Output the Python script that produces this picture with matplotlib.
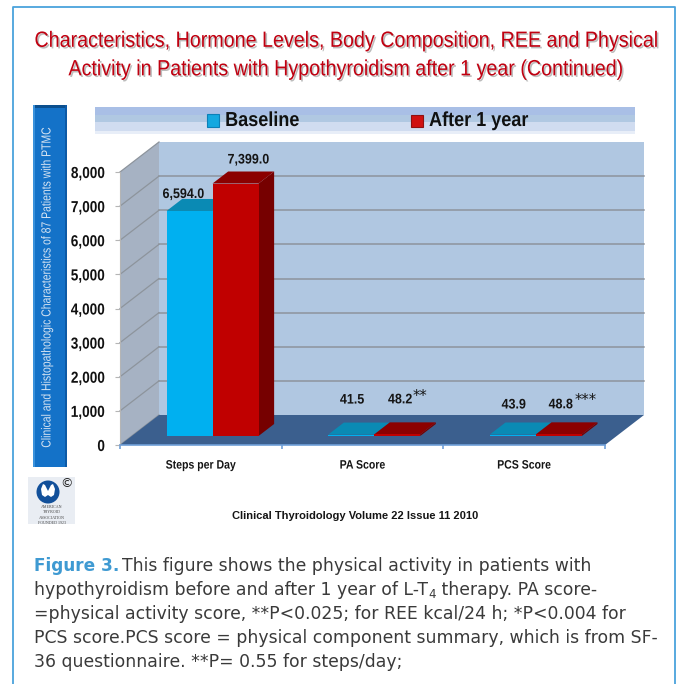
# plot.py - physical activity before / after 1 year of L-T4
import numpy as np
import matplotlib
matplotlib.use("Agg")
import matplotlib.pyplot as plt
import matplotlib.patheffects as pe
from matplotlib.patches import Rectangle, Polygon, Circle
from matplotlib.transforms import Affine2D

W, H = 677, 684

categories = ["Steps per Day", "PA Score", "PCS Score"]
baseline = [6594.0, 41.5, 43.9]
after_1y = [7399.0, 48.2, 48.8]
baseline_labels = ["6,594.0", "41.5", "43.9"]
after_labels = ["7,399.0", "48.2", "48.8"]
after_marks = ["", "**", "***"]
yticks = [0, 1000, 2000, 3000, 4000, 5000, 6000, 7000, 8000]

title_lines = [
    "Characteristics, Hormone Levels, Body Composition, REE and Physical",
    "Activity in Patients with Hypothyroidism after 1 year (Continued)",
]
side_text = "Clinical and Histopathologic Characteristics of 87 Patients with PTMC"
source_text = "Clinical Thyroidology Volume 22 Issue 11 2010"
caption_lines = [
    "This figure shows the physical activity in patients with",
    "hypothyroidism before and after 1 year of L-T",
    "=physical activity score, **P<0.025; for REE kcal/24 h; *P<0.004 for",
    "PCS score.PCS score = physical component summary, which is from SF-",
    "36 questionnaire. **P= 0.55 for steps/day;",
]

SANS = "Liberation Sans"
CAPTION_FONT = "DejaVu Sans"


class Squeeze(pe.AbstractPathEffect):
    # no condensed font here, so narrow the glyphs while they are drawn
    def __init__(self, sx=1.0, sy=1.0, anchor=0.5, shadow=None):
        super().__init__()
        self.sx, self.sy, self.anchor, self.shadow = sx, sy, anchor, shadow

    def draw_path(self, renderer, gc, tpath, affine, rgbFace=None):
        ext = tpath.get_extents(affine)
        cx = ext.x0 + self.anchor * ext.width
        cy = ext.y0 + 0.5 * ext.height
        squeeze = Affine2D().translate(-cx, -cy).scale(self.sx, self.sy).translate(cx, cy)
        if self.shadow:
            gc0 = renderer.new_gc()
            gc0.copy_properties(gc)
            gc0.set_alpha(0.4)
            renderer.draw_path(gc0, tpath, affine + squeeze + Affine2D().translate(1.6, -1.6), self.shadow)
            gc0.restore()
        renderer.draw_path(gc, tpath, affine + squeeze, rgbFace)


fig = plt.figure(figsize=(W / 100, H / 100), dpi=100, facecolor="white")

# whole-page axes in pixels, for everything around the chart
page = fig.add_axes([0, 0, 1, 1])
page.set_xlim(0, W)
page.set_ylim(H, 0)
page.axis("off")

# frame, open at the bottom
page.plot([13, 13, 675, 675], [H, 7, 7, H], color="#4aa3dc", lw=1.3)

for i, line in enumerate(title_lines):
    page.text(347, 41 + i * 28.5, line, color="#c00010", fontsize=15, family=SANS,
              ha="center", va="center",
              path_effects=[Squeeze(sx=0.945, sy=1.06, shadow=(0.35, 0.35, 0.35))])

# side bar
page.add_patch(Rectangle((33, 105), 34, 362, fc="#1472c8", ec="none"))
page.add_patch(Rectangle((33, 105), 34, 3, fc="#0b4f8e", ec="none"))
page.add_patch(Rectangle((33, 105), 2, 362, fc="#3a92dc", ec="none"))
page.add_patch(Rectangle((65, 105), 2, 362, fc="#0d5aa6", ec="none"))
page.text(47.5, 287, side_text, rotation=90, color="#d5e3f2", fontsize=9.5, family=SANS,
          ha="center", va="center", path_effects=[Squeeze(sy=0.79)])

# legend band
for y0, h, c in [(107, 8, "#a9bfe6"), (115, 7, "#b0c8e2"), (122, 9, "#d0dcf0"), (131, 3, "#e8eef8")]:
    page.add_patch(Rectangle((95, y0), 540, h, fc=c, ec="none"))
page.add_patch(Rectangle((207, 114), 12, 13, fc="#14a8e0", ec="#0c80b8", lw=0.8))
page.add_patch(Rectangle((411, 115), 12, 12, fc="#d01010", ec="#901010", lw=0.8))
squeeze_left = [Squeeze(sx=0.89, anchor=0)]
page.text(225, 120.5, "Baseline", fontsize=14.6, fontweight="bold", family=SANS, va="center",
          color="#101010", path_effects=squeeze_left)
page.text(429, 120.5, "After 1 year", fontsize=14.6, fontweight="bold", family=SANS, va="center",
          color="#101010", path_effects=squeeze_left)

# thyroid association logo
page.add_patch(Rectangle((28, 477), 47, 47, fc="#e9edf3", ec="none"))
page.add_patch(Circle((48, 492), 11.5, fc="#12509a", ec="none"))
page.add_patch(Polygon([(41, 489), (43, 484), (45, 485), (48, 491), (51, 485), (53, 484), (55, 489), (54, 495),
                        (51, 497), (48, 495), (45, 497), (42, 495)], fc="white", ec="none"))
page.text(66, 484, "©", fontsize=9, ha="center", va="center", color="#222222")
for y, t in [(507, "AMERICAN"), (512.3, "THYROID"), (517.6, "ASSOCIATION"), (523, "FOUNDED 1923")]:
    page.text(51.5, y, t, fontsize=2.9, ha="center", va="center", color="#444444", family="Liberation Serif")

page.text(355.5, 516, source_text, fontsize=8.0, fontweight="bold", family=SANS,
          ha="center", va="center", color="#151515")


# caption, drawn piece by piece so the inline parts follow on
def run_on(x, y, s, **kw):
    t = page.text(x, y, s, va="baseline", ha="left", family=CAPTION_FONT, **kw)
    bb = t.get_window_extent(fig.canvas.get_renderer())
    return bb.x1


cap_kw = dict(fontsize=12.4, color="#3a3a3a")
base_y = [571, 595, 619, 643, 667]
x = run_on(34, base_y[0], "Figure 3.", fontsize=12.2, color="#3f9ad2", fontweight="bold")
run_on(x + 3, base_y[0], caption_lines[0], **cap_kw)
x = run_on(34, base_y[1], caption_lines[1], **cap_kw)
x = run_on(x, base_y[1] + 3, "4", fontsize=8.5, color="#3a3a3a")
run_on(x, base_y[1], " therapy. PA score-", **cap_kw)
for i in (2, 3, 4):
    run_on(34, base_y[i], caption_lines[i], **cap_kw)

# chart axes: the front plane of the 3D box
x0, x1, y_top, y_zero = 120, 605, 172, 445
ax = fig.add_axes([x0 / W, 1 - y_zero / H, (x1 - x0) / W, (y_zero - y_top) / H])
ax.set_xlim(0, len(categories))
ax.set_ylim(0, yticks[-1])
ax.patch.set_alpha(0)

# depth of the box, in data units
px_x = len(categories) / (x1 - x0)
px_y = yticks[-1] / (y_zero - y_top)
depth_x = 39 * px_x
depth_y = 30 * px_y
n = len(categories)
top = yticks[-1]


def poly(pts, color, z=1, **kw):
    ax.add_patch(Polygon(pts, fc=color, ec=kw.pop("ec", "none"), clip_on=False, zorder=z, **kw))


poly([(depth_x, depth_y), (n + depth_x, depth_y), (n + depth_x, top + depth_y), (depth_x, top + depth_y)], "#b0c7e1")
poly([(0, 0), (depth_x, depth_y), (depth_x, top + depth_y), (0, top)], "#a6b2c3")
poly([(0, 0), (n, 0), (n + depth_x, depth_y), (depth_x, depth_y)], "#3b5f8e", z=2)

for v in yticks:
    ax.plot([0, depth_x], [v, v + depth_y], color="#8d949c", lw=0.9, clip_on=False, zorder=1.5)
    if 0 < v < top:
        ax.plot([depth_x, n + depth_x], [v + depth_y, v + depth_y], color="#8d949c", lw=1.1, clip_on=False, zorder=1.5)

# bars, front face standing a little inside the floor
bar_w = 46 * px_x
front, back = 0.3, 0.7
centres = np.arange(n) + 0.5 + front * depth_x


def bar3d(xc, v, c_front, c_top, c_side, z):
    l, r = xc - bar_w / 2, xc + bar_w / 2
    b = front * depth_y
    dx, dy = (back - front) * depth_x, (back - front) * depth_y
    poly([(r, b), (r + dx, b + dy), (r + dx, b + v + dy), (r, b + v)], c_side, z=z)
    poly([(l, b + v), (r, b + v), (r + dx, b + v + dy), (l + dx, b + v + dy)], c_top, z=z)
    ax.bar(l, v, width=bar_w, bottom=b, align="edge", color=c_front, zorder=z + 0.1, clip_on=False)


for i in range(n):
    bar3d(centres[i] - bar_w / 2, baseline[i], "#00b0f0", "#0a8ab4", "#0a8ab4", 3 + i)
    bar3d(centres[i] + bar_w / 2, after_1y[i], "#c00000", "#8b0000", "#760000", 3.2 + i)

# data labels, offsets in pixels from the bar top
base_off = [(-6, 17), (1, 35), (1, 30)]
after_off = [(13, 24), (3, 35), (2, 30)]
mark_off = [(0, 0), (23, 38), (27, 34)]
lab_kw = dict(textcoords="offset pixels", ha="center", va="center", fontsize=10, fontweight="bold",
              family=SANS, color="#151515", annotation_clip=False, zorder=10,
              path_effects=[Squeeze(sx=0.9)])
for i in range(n):
    xb = centres[i] - bar_w / 2
    xa = centres[i] + bar_w / 2
    yb = baseline[i] + front * depth_y
    ya = after_1y[i] + front * depth_y
    ax.annotate(baseline_labels[i], (xb, yb), xytext=base_off[i], **lab_kw)
    ax.annotate(after_labels[i], (xa, ya), xytext=after_off[i], **lab_kw)
    if after_marks[i]:
        ax.annotate(after_marks[i], (xa, ya), xytext=mark_off[i], textcoords="offset pixels", ha="center", va="center",
                    fontsize=10.5, family="DejaVu Sans", color="#151515", annotation_clip=False, zorder=10)

# axis furniture
for s in ("top", "right"):
    ax.spines[s].set_visible(False)
ax.spines["left"].set_color("#b5b5b5")
ax.spines["bottom"].set_color("#6f9fd8")
ax.spines["bottom"].set_linewidth(1.2)
ax.set_yticks(yticks)
ax.set_yticklabels([f"{v:,}" for v in yticks], fontsize=11.5, fontweight="bold", family=SANS, color="#111111")
for lab in ax.get_yticklabels():
    lab.set_path_effects([Squeeze(sx=0.85, anchor=1)])
ax.tick_params(axis="y", length=3.6, color="#b5b5b5", pad=7.2)
ax.set_xticks(np.arange(n + 1))
ax.set_xticklabels([])
ax.tick_params(axis="x", length=3, color="#6f9fd8", width=1.2)
ax.set_xticks(np.arange(n) + 0.5, minor=True)
ax.set_xticklabels(categories, minor=True, fontsize=8.8, fontweight="bold", family=SANS, color="#151515")
for lab in ax.get_xticklabels(minor=True):
    lab.set_path_effects([Squeeze(sx=0.86)])
ax.tick_params(axis="x", which="minor", length=0, pad=10.5)

fig.savefig("out.png", dpi=100)
